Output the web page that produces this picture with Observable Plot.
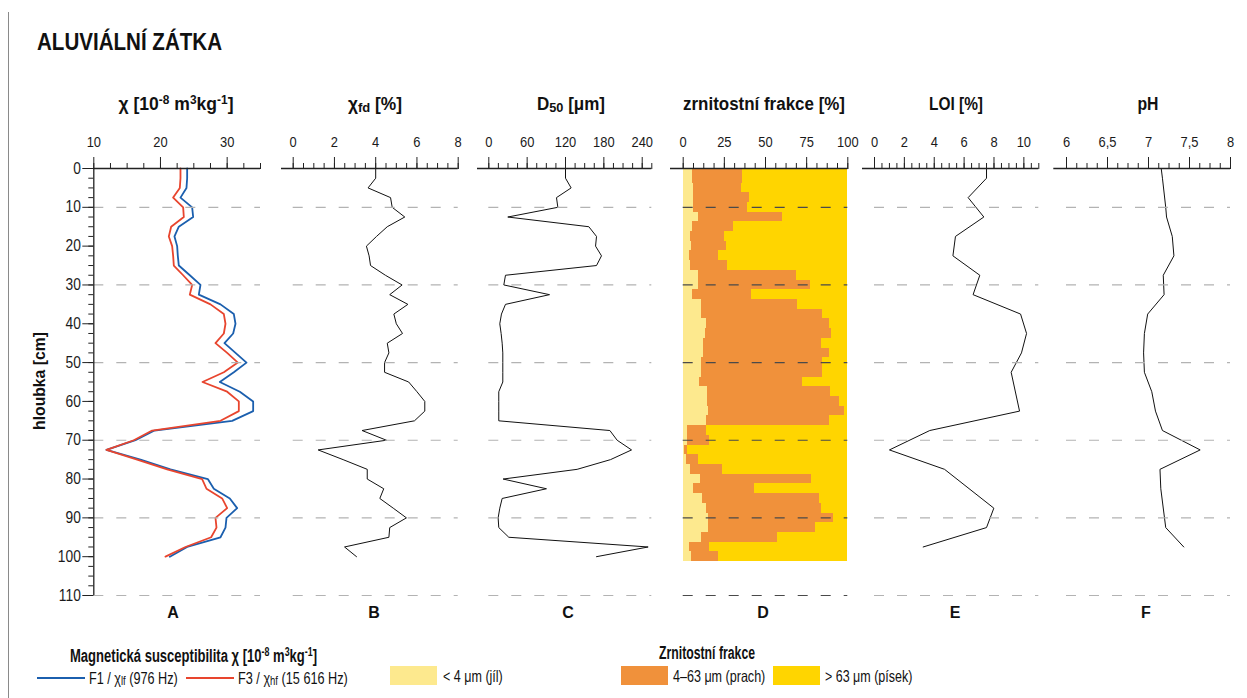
<!DOCTYPE html>
<html><head><meta charset="utf-8">
<script src="https://cdn.jsdelivr.net/npm/d3@7"></script>
<script src="https://cdn.jsdelivr.net/npm/@observablehq/plot@0.6"></script>
<style>
html,body{margin:0;padding:0;background:#fff;overflow:hidden;}
#wrap{position:relative;width:1247px;height:698px;font-family:"Liberation Sans",Arial,sans-serif;color:#111;}
#wrap svg{position:absolute;left:0;top:0;}
.t{position:absolute;white-space:nowrap;line-height:1;}
.b{font-weight:bold;}
sup{font-size:68%;vertical-align:0.5em;line-height:0;}
sub{font-size:75%;vertical-align:-0.12em;line-height:0;}
.sw{position:absolute;height:19px;width:47px;}
.ln{position:absolute;height:2px;width:48px;}
#border{position:absolute;left:8px;top:12px;width:1px;height:690px;background:#8a8a8a;}
</style></head>
<body><div id="wrap"><div id="border"></div></div>
<script>
// ---------- data ----------
const depths = [0,2.5,5,7.5,10,12.5,15,17.5,20,22.5,25,27.5,30,32.5,35,37.5,40,42.5,45,47.5,50,52.5,55,57.5,60,62.5,65,67.5,70,72.5,75,77.5,80,82.5,85,87.5,90,92.5,95,97.5,100];
// A: magnetic susceptibility (10^-8 m3/kg)
const chiLf = [24.0,24.0,23.9,23.0,24.75,24.9,22.75,22.1,22.5,22.6,22.75,24.4,26.0,25.75,29.0,31.0,31.25,30.9,29.6,31.25,32.9,31.0,28.9,31.9,33.9,33.9,30.75,19.1,16.25,11.9,17.0,21.5,27.1,28.0,30.4,31.5,29.9,29.75,29.0,24.0,21.4];
const chiHf = [23.0,23.0,22.9,21.9,23.4,23.5,21.6,21.25,21.75,21.9,22.0,23.4,24.75,24.4,27.5,29.5,29.75,29.5,28.25,30.0,31.6,29.5,26.3,30.0,31.75,31.75,29.0,18.75,16.0,11.9,16.5,21.0,26.25,26.9,29.25,30.0,28.25,28.4,27.6,23.75,20.75];
// B: chi fd (%)
const chiFd = [4.0,4.0,3.63,4.72,4.8,5.41,4.56,4.04,3.55,3.68,3.75,4.47,5.28,4.68,5.56,4.88,5.0,5.3,4.56,4.64,4.43,4.43,5.6,6.0,6.38,6.38,5.88,3.34,4.52,1.21,2.42,3.59,3.59,4.39,4.2,4.85,5.49,4.68,4.64,2.49,3.07];
// C: D50 (um)
const d50 = [120,120,128.8,105.9,108,29.7,156.5,168.5,167,176.3,168.5,26.1,23.5,95,26.1,19.8,17.2,19.3,20.9,21.9,21.9,21.9,21.9,15.6,15.6,15.6,15.6,189.4,200.8,223.3,190.4,138.2,22.4,90.2,20.9,17.2,14.6,15.6,31.3,249.3,168.5];
// D: grain-size fractions (%): clay, and cumulative clay + silt (rest = sand)
const clay = [5.5,5.5,6.5,6.5,6.5,9.5,5.9,4.7,5.1,4.0,4.5,9.5,9.5,5.9,10.9,10.9,14.0,13.6,12.6,12.6,10.9,10.9,9.9,14.6,15.0,15.6,14.0,2.8,2.8,0.8,2.0,4.5,10.5,6.5,11.5,14.0,15.6,15.2,11.1,3.6,5.1];
const claySilt = [36.2,36.2,35.2,40.3,38.9,60.1,30.6,25.3,26.1,21.7,27.1,68.8,77.1,41.3,69.2,84.8,89.1,89.9,84.2,89.1,84.8,84.8,72.3,89.5,95.1,98.0,89.1,14.2,16.2,2.4,9.5,23.9,77.9,43.3,82.6,83.8,91.5,80.6,57.1,16.2,21.3];
const sampleHalf = 1.25;
// E: LOI (%)
const loiDepth = [0,2.5,7.5,12.5,17.5,22.5,27.5,32.5,37.5,42.5,47.5,52.5,62.5,67.5,72.5,77.5,87.5,92.5,97.5];
const loi = [7.5,7.5,6.27,7.32,5.42,5.25,7.05,6.6,9.78,10.18,9.84,9.15,9.71,3.7,1.0,4.69,7.99,7.5,3.26];
// F: pH
const phDepth = [0,2.5,10,12.5,17.5,22.5,27.5,32.5,37.5,42.5,47.5,52.5,57.5,62.5,67.5,72.5,77.5,82.5,92.5,97.5];
const ph = [7.155,7.17,7.21,7.22,7.29,7.31,7.18,7.19,6.99,6.95,6.94,6.95,7.04,7.085,7.17,7.63,7.14,7.15,7.21,7.43];

// ticks
const depthMajor = [0,10,20,30,40,50,60,70,80,90,100,110];
const depthMinor = d3.range(0, 110.01, 2.5);
const gridDepths = [10,30,50,70,90,110];
const ticksA = [10,20,30], minorA = d3.range(10, 35.01, 2.5);
const ticksB = [0,2,4,6,8], minorB = d3.range(0, 8.01, 0.5);
const ticksC = [0,60,120,180,240], minorC = d3.range(0, 255.01, 15);
const ticksD = [0,25,50,75,100], minorD = d3.range(0, 100.01, 6.25);
const ticksE = [0,2,4,6,8,10], minorE = d3.range(0, 11.01, 0.5);
const ticksF = [6,6.5,7,7.5,8], minorF = d3.range(6, 8.001, 0.125);

// colours
const cBlue = "#1b5fae", cRed = "#e8452e";
const cClay = "#fde98e", cSilt = "#f0913b", cSand = "#ffd500";

// ---------- layout ----------
const W = 1247, H = 698, yTop = 168, yBot = 595;
const FONT = '"Liberation Sans",Arial,sans-serif';
const wrap = document.getElementById("wrap");

function condense(svg, sel, k) {
  svg.querySelectorAll(sel).forEach(t => {
    const L = t.getComputedTextLength();
    if (L > 0) { t.setAttribute("textLength", L * k); t.setAttribute("lengthAdjust", "spacingAndGlyphs"); }
  });
}

function panel({domain, range, axisStart, major, minor, fmt = d => String(d), marks, gridStroke = "#b3b3b3", depthAxis = false}) {
  const svg = Plot.plot({
    width: W, height: H,
    marginLeft: axisStart, marginRight: W - range[1], marginTop: yTop, marginBottom: H - yBot,
    x: {domain, range, axis: null},
    y: {domain: [0, 110], range: [yTop, yBot], axis: null},
    style: {fontFamily: FONT, fontSize: "15px", color: "#1a1a1a", background: "transparent", overflow: "visible"},
    marks: [
      ...marks,
      Plot.ruleY(gridDepths, {x1: domain[0], x2: domain[1], stroke: gridStroke, strokeWidth: 1.2, strokeDasharray: "10,13"}),
      Plot.ruleY([0], {stroke: "#222", strokeWidth: 1.3}),
      Plot.axisX({anchor: "top", ticks: major, tickSize: 12, tickPadding: 10, tickFormat: fmt, label: null, stroke: "#222", fontSize: 15}),
      Plot.axisX({anchor: "top", ticks: minor, tickSize: 6, fill: "none", label: null, stroke: "#222"}),
      ...(depthAxis ? [
        Plot.ruleX([domain[0]], {stroke: "#222", strokeWidth: 1.3}),
        Plot.axisY({anchor: "left", ticks: depthMajor, tickSize: 11, tickPadding: 2, label: null, stroke: "#222", fontSize: 16}),
        Plot.axisY({anchor: "left", ticks: depthMinor, tickSize: 5, fill: "none", label: null, stroke: "#222"})
      ] : [])
    ]
  });
  wrap.appendChild(svg);
  condense(svg, "text", 0.86);
}

const rows = depths.map((d, i) => ({
  d, lf: chiLf[i], hf: chiHf[i], fd: chiFd[i], d50: d50[i],
  clay: clay[i], cs: claySilt[i],
  top: Math.max(0, d - sampleHalf), bottom: d + sampleHalf
}));
const loiRows = loiDepth.map((d, i) => ({d, v: loi[i]}));
const phRows = phDepth.map((d, i) => ({d, v: ph[i]}));

// A
panel({domain: [10, 35], range: [93.3, 260], axisStart: 93.3, major: ticksA, minor: minorA, depthAxis: true,
  marks: [
    Plot.line(rows, {x: "lf", y: "d", stroke: cBlue, strokeWidth: 1.8}),
    Plot.line(rows, {x: "hf", y: "d", stroke: cRed, strokeWidth: 1.8})
  ]});
// B
panel({domain: [0, 8], range: [292.7, 457.7], axisStart: 281, major: ticksB, minor: minorB,
  marks: [Plot.line(rows, {x: "fd", y: "d", stroke: "#111", strokeWidth: 1})]});
// C
panel({domain: [0, 255], range: [488.3, 651.3], axisStart: 477, major: ticksC, minor: minorC,
  marks: [Plot.line(rows, {x: "d50", y: "d", stroke: "#111", strokeWidth: 1})]});
// D
panel({domain: [0, 100], range: [682.7, 847.3], axisStart: 670, major: ticksD, minor: minorD, gridStroke: "#4a4a4a",
  marks: [
    Plot.rectX(rows, {y1: "top", y2: "bottom", x1: 0, x2: "clay", fill: cClay, shapeRendering: "crispEdges"}),
    Plot.rectX(rows, {y1: "top", y2: "bottom", x1: "clay", x2: "cs", fill: cSilt, shapeRendering: "crispEdges"}),
    Plot.rectX(rows, {y1: "top", y2: "bottom", x1: "cs", x2: 100, fill: cSand, shapeRendering: "crispEdges"})
  ]});
// E
panel({domain: [0, 11], range: [874, 1038.3], axisStart: 862, major: ticksE, minor: minorE,
  marks: [Plot.line(loiRows, {x: "v", y: "d", stroke: "#111", strokeWidth: 1})]});
// F
panel({domain: [6, 8], range: [1066, 1230], axisStart: 1053.3, major: ticksF, minor: minorF,
  fmt: d => String(d).replace(".", ","),
  marks: [Plot.line(phRows, {x: "v", y: "d", stroke: "#111", strokeWidth: 1})]});

// ---------- text (a = anchor: c centre, l left; w = target width) ----------
const html = `
<div class="t b" data-a="l" data-w="185" style="left:37px;top:42px;font-size:24px;">ALUVIÁLNÍ ZÁTKA</div>
<div class="t b" data-a="c" data-w="115" style="left:176px;top:104px;font-size:18px;">χ [10<sup>-8</sup> m<sup>3</sup>kg<sup>-1</sup>]</div>
<div class="t b" data-a="c" data-w="54" style="left:375px;top:104px;font-size:18px;">χ<sub>fd</sub> [%]</div>
<div class="t b" data-a="c" data-w="68" style="left:571px;top:104px;font-size:18px;">D<sub>50</sub> [μm]</div>
<div class="t b" data-a="c" data-w="162" style="left:764px;top:104px;font-size:18px;">zrnitostní frakce [%]</div>
<div class="t b" data-a="c" data-w="54" style="left:956px;top:104px;font-size:18px;">LOI [%]</div>
<div class="t b" data-a="c" data-w="21" style="left:1148px;top:104px;font-size:18px;">pH</div>
<div class="t b" data-a="r" data-w="98" style="left:39px;top:381px;font-size:17px;">hloubka [cm]</div>
<div class="t b" data-a="c" style="left:173px;top:613px;font-size:16px;">A</div>
<div class="t b" data-a="c" style="left:374px;top:613px;font-size:16px;">B</div>
<div class="t b" data-a="c" style="left:568px;top:613px;font-size:16px;">C</div>
<div class="t b" data-a="c" style="left:763px;top:613px;font-size:16px;">D</div>
<div class="t b" data-a="c" style="left:955px;top:613px;font-size:16px;">E</div>
<div class="t b" data-a="c" style="left:1146px;top:613px;font-size:16px;">F</div>
<div class="t b" data-a="l" data-w="247" style="left:70px;top:656px;font-size:18px;">Magnetická susceptibilita χ [10<sup>-8</sup> m<sup>3</sup>kg<sup>-1</sup>]</div>
<div class="ln" style="left:37px;top:677px;background:${cBlue};"></div>
<div class="t" data-a="l" data-w="89" style="left:89px;top:678px;font-size:16.5px;">F1 / χ<sub>lf</sub> (976 Hz)</div>
<div class="ln" style="left:186px;top:677px;background:${cRed};"></div>
<div class="t" data-a="l" data-w="110" style="left:238px;top:678px;font-size:16.5px;">F3 / χ<sub>hf</sub> (15 616 Hz)</div>
<div class="t b" data-a="c" data-w="96" style="left:707px;top:653px;font-size:18px;">Zrnitostní frakce</div>
<div class="sw" style="left:390px;top:666px;background:${cClay};"></div>
<div class="t" data-a="l" data-w="60" style="left:443px;top:676px;font-size:16.5px;">&lt; 4 μm (jíl)</div>
<div class="sw" style="left:621px;top:666px;background:${cSilt};"></div>
<div class="t" data-a="l" data-w="92" style="left:673px;top:676px;font-size:16.5px;">4–63 μm (prach)</div>
<div class="sw" style="left:773px;top:666px;background:${cSand};"></div>
<div class="t" data-a="l" data-w="87" style="left:825px;top:676px;font-size:16.5px;">&gt; 63 μm (písek)</div>
`;
wrap.insertAdjacentHTML("beforeend", html);
wrap.querySelectorAll(".t").forEach(el => {
  const a = el.dataset.a;
  const s = el.dataset.w ? (+el.dataset.w / el.offsetWidth) : 1;
  if (a === "l") { el.style.transformOrigin = "0 50%"; el.style.transform = `translate(0,-50%) scaleX(${s})`; }
  else if (a === "r") { el.style.transformOrigin = "50% 50%"; el.style.transform = `translate(-50%,-50%) rotate(-90deg) scaleX(${s})`; }
  else { el.style.transformOrigin = "50% 50%"; el.style.transform = `translate(-50%,-50%) scaleX(${s})`; }
});
</script>
</body></html>
